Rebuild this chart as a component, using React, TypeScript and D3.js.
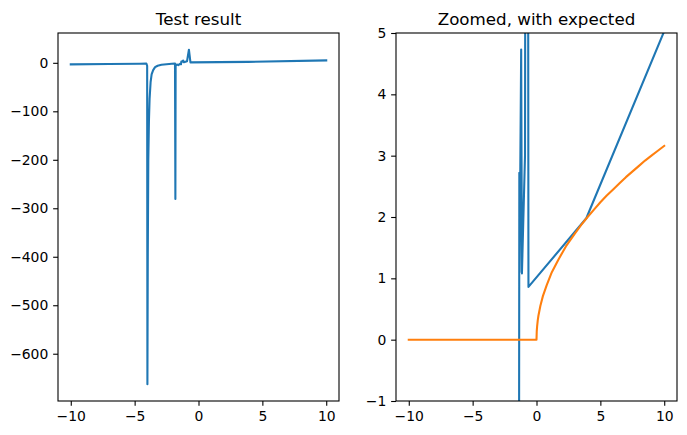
import { axisBottom, axisLeft, extent, format, line, scaleLinear, ScaleLinear, select } from "d3";
import { useEffect, useRef } from "react";

// blue curve (network output)
const testX = [
  -10, -7, -4.6, -4.08, -4.02, -4.0, -3.97, -3.93, -3.88, -3.83, -3.75, -3.67,
  -3.55, -3.4, -3.2, -2.9, -2.5, -2.1, -1.84, -1.81, -1.79, -1.7, -1.58, -1.45,
  -1.37, -1.345, -1.33, -1.2, -1.14, -0.9, -0.75, -0.63, 3.9, 10,
];
const testY = [
  -3.2, -2.5, -1.8, -1.5, -6, -663, -400, -200, -120, -75, -40, -24, -15, -9,
  -6, -4, -2.8, -2, -1.7, -281, -6, -3.5, -4.7, -2.2, -3, 2.72, 1.1, 4.73, 1.08,
  3, 27, 0.86, 1.98, 5.03,
];

// orange curve (expected)
const expectedX = [
  -10, -5, 0, 0.02, 0.05, 0.1, 0.15, 0.3, 0.5, 0.8, 1.2, 1.7, 2.3, 3, 3.5, 4,
  4.5, 5, 5.5, 6, 6.5, 7, 7.5, 8, 8.5, 9, 9.5, 10,
];
const expectedY = [
  0, 0, 0, 0.14, 0.22, 0.32, 0.39, 0.55, 0.71, 0.89, 1.1, 1.3, 1.52, 1.73, 1.87,
  2.0, 2.12, 2.24, 2.35, 2.45, 2.55, 2.65, 2.74, 2.83, 2.92, 3.0, 3.08, 3.16,
];

const xTicks = [-10, -5, 0, 5, 10];
const testYTicks = [0, -100, -200, -300, -400, -500, -600];
const zoomYTicks = [-1, 0, 1, 2, 3, 4, 5];
const zoomYLimits: [number, number] = [-1, 5];

const BLUE = "#1f77b4";
const ORANGE = "#ff7f0e";
const FONT = "DejaVu Sans";
const TICK = 4.86;
const fmt = format("d");

interface Series {
  xs: number[];
  ys: number[];
  color: string;
}

interface PanelProps {
  id: string;
  title: string;
  left: number;
  right: number;
  top: number;
  bottom: number;
  series: Series[];
  yTicks: number[];
  yLimits?: [number, number];
}

function padded([lo, hi]: [number, number]): [number, number] {
  const m = (hi - lo) * 0.05;
  return [lo - m, hi + m];
}

function AxisBottom({ scale, y, ticks }: { scale: ScaleLinear<number, number>; y: number; ticks: number[] }) {
  const ref = useRef<SVGGElement>(null);
  useEffect(() => {
    if (!ref.current) return;
    const g = select(ref.current);
    g.call(
      axisBottom(scale)
        .tickValues(ticks)
        .tickFormat((d) => fmt(d as number))
        .tickSize(TICK)
        .tickSizeOuter(0)
        .tickPadding(4.86),
    );
    g.select(".domain").remove();
    g.attr("font-size", 13.9).attr("font-family", FONT);
    g.selectAll(".tick line").attr("stroke-width", 1.1);
    g.selectAll(".tick text").attr("fill", "#000");
  }, [scale, ticks]);
  return <g ref={ref} transform={`translate(0,${y})`} />;
}

function AxisLeft({ scale, x, ticks }: { scale: ScaleLinear<number, number>; x: number; ticks: number[] }) {
  const ref = useRef<SVGGElement>(null);
  useEffect(() => {
    if (!ref.current) return;
    const g = select(ref.current);
    g.call(
      axisLeft(scale)
        .tickValues(ticks)
        .tickFormat((d) => fmt(d as number))
        .tickSize(TICK)
        .tickSizeOuter(0)
        .tickPadding(4.86),
    );
    g.select(".domain").remove();
    g.attr("font-size", 13.9).attr("font-family", FONT);
    g.selectAll(".tick line").attr("stroke-width", 1.1);
    g.selectAll(".tick text").attr("fill", "#000");
  }, [scale, ticks]);
  return <g ref={ref} transform={`translate(${x},0)`} />;
}

function Panel({ id, title, left, right, top, bottom, series, yTicks, yLimits }: PanelProps) {
  const allX = series.flatMap((s) => s.xs);
  const allY = series.flatMap((s) => s.ys);
  const scaleX = scaleLinear()
    .domain(padded(extent(allX) as [number, number]))
    .range([left, right]);
  const scaleY = scaleLinear()
    .domain(yLimits ?? padded(extent(allY) as [number, number]))
    .range([bottom, top]);

  return (
    <g>
      <defs>
        <clipPath id={id}>
          <rect x={left} y={top} width={right - left} height={bottom - top} />
        </clipPath>
      </defs>
      <g clipPath={`url(#${id})`}>
        {series.map((s, i) => {
          const path = line<number>()
            .x((d) => scaleX(d))
            .y((_, j) => scaleY(s.ys[j]))(s.xs);
          return (
            <path
              key={`line-${i}`}
              d={path ?? ""}
              fill="none"
              stroke={s.color}
              strokeWidth={2.08}
              strokeLinejoin="round"
              strokeLinecap="square"
            />
          );
        })}
      </g>
      <rect
        x={left}
        y={top}
        width={right - left}
        height={bottom - top}
        fill="none"
        stroke="#000"
        strokeWidth={1.1}
      />
      <AxisBottom scale={scaleX} y={bottom} ticks={xTicks} />
      <AxisLeft scale={scaleY} x={left} ticks={yTicks} />
      <text
        x={(left + right) / 2}
        y={top - 8.3}
        textAnchor="middle"
        fontFamily={FONT}
        fontSize={16.7}
        fill="#000"
      >
        {title}
      </text>
    </g>
  );
}

export default function App() {
  const blue: Series = { xs: testX, ys: testY, color: BLUE };
  const orange: Series = { xs: expectedX, ys: expectedY, color: ORANGE };
  return (
    <div style={{ position: "fixed", left: 0, top: 0 }}>
      <svg width={687} height={435} style={{ display: "block", background: "#fff" }}>
        <Panel
          id="clip-left"
          title="Test result"
          left={58}
          right={339}
          top={33}
          bottom={401}
          series={[blue]}
          yTicks={testYTicks}
        />
        <Panel
          id="clip-right"
          title="Zoomed, with expected"
          left={396}
          right={677}
          top={33}
          bottom={401}
          series={[blue, orange]}
          yTicks={zoomYTicks}
          yLimits={zoomYLimits}
        />
      </svg>
    </div>
  );
}
